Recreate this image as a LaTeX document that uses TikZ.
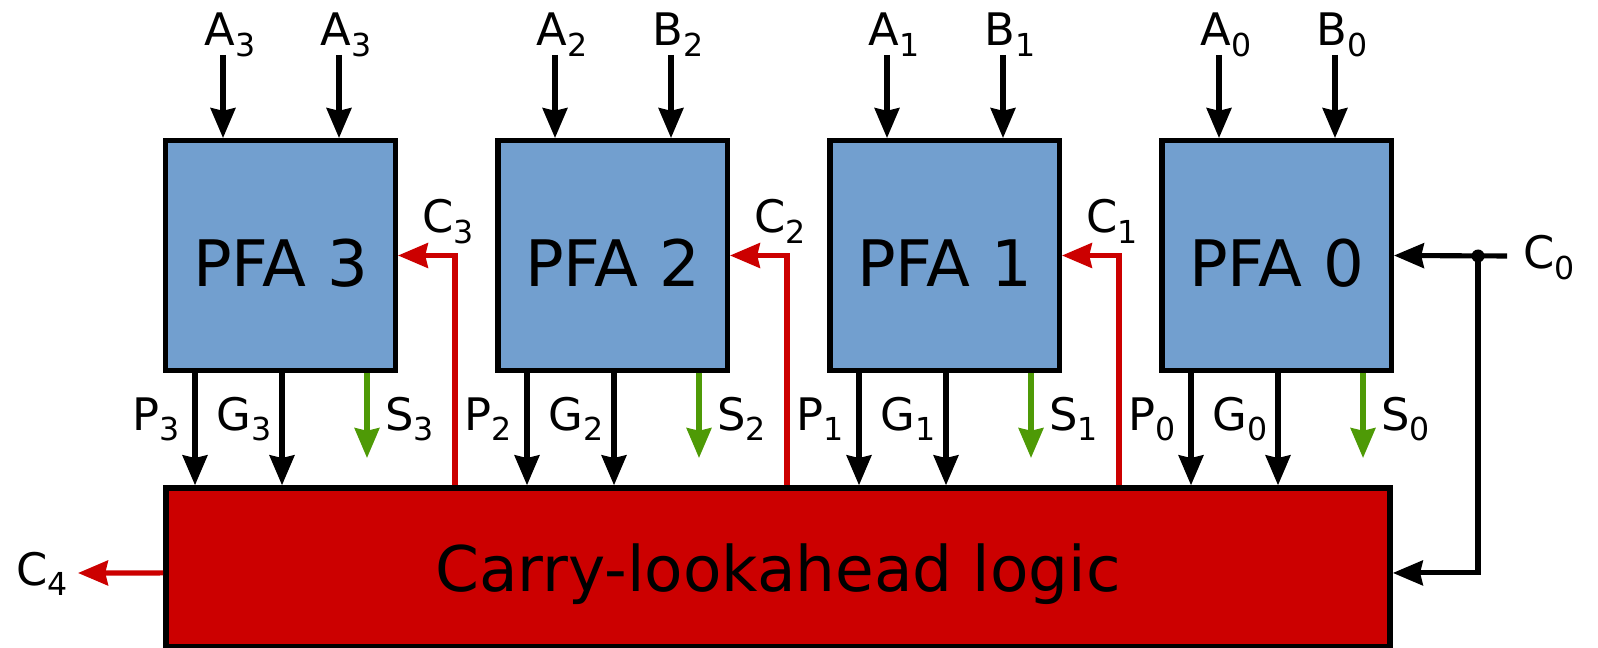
\documentclass[tikz,border=0pt]{standalone}
\usepackage{fontspec}
\setmainfont{DejaVu Sans}
\usepackage{tikz}
\usetikzlibrary{arrows.meta, calc, positioning, shapes}

\definecolor{pfablue}{HTML}{729FCF}
\definecolor{clared}{HTML}{CC0000}
\definecolor{sumgreen}{HTML}{4E9A06}

\newcommand{\sig}[2]{#1\raisebox{-5.7pt}{\fontsize{18}{18}\selectfont #2}}

\tikzset{
	pfa/.style={draw, line width=3.1pt, fill=pfablue, minimum width=4.59cm, minimum height=4.59cm, text height=35.7pt, text depth=0pt, font=\fontsize{36.5}{40}\selectfont},
	clabox/.style={draw, line width=3.1pt, fill=clared, minimum width=24.49cm, minimum height=3.18cm, text depth=0pt, font=\fontsize{35.8}{40}\selectfont},
	wire/.style={line width=2.9pt, -{Stealth[length=17pt, width=14pt, inset=1.5pt]}},
	lbl/.style={font=\fontsize{25.5}{30}\selectfont, inner sep=0pt}
}

\begin{document}
\begin{tikzpicture}[x=0.02cm, y=-0.02cm]
		\useasboundingbox (0,0) rectangle (1598,648);
		\node[clabox] (cla) at (778,567.5) {Carry-lookahead logic};
		\foreach \k/\a/\b in {3/A/A, 2/A/B, 1/A/B, 0/A/B}{
			\pgfmathtruncatemacro\j{3-\k}
			\pgfmathsetmacro\xl{163+332*\j}
			\node[pfa] (pfa\k) at (\xl+117.5,255.5) {PFA \k};
			% operand inputs
			\coordinate (a\k) at (\xl+60,55);
			\coordinate (b\k) at (\xl+176,55);
			\draw[wire] (a\k) -- (a\k |- pfa\k.north);
			\draw[wire] (b\k) -- (b\k |- pfa\k.north);
			\node[lbl, anchor=base] at ($(a\k)+(7,-9)$) {\sig{\a}{\k}};
			\node[lbl, anchor=base] at ($(b\k)+(7,-9)$) {\sig{\b}{\k}};
			% propagate, generate, sum
			\coordinate (p\k) at (\xl+32,430);
			\coordinate (g\k) at (\xl+119,430);
			\coordinate (s\k) at (\xl+204,458);
			\draw[wire] (p\k |- pfa\k.south) -- (p\k |- cla.north);
			\draw[wire] (g\k |- pfa\k.south) -- (g\k |- cla.north);
			\draw[wire, sumgreen] (s\k |- pfa\k.south) -- (s\k);
			\node[lbl, anchor=base east] at ($(p\k)+(-15,0)$) {\sig{P}{\k}};
			\node[lbl, anchor=base east] at ($(g\k)+(-10,0)$) {\sig{G}{\k}};
			\node[lbl, anchor=base west] at ($(s\k)+(18,-28)$) {\sig{S}{\k}};
			% carry back into the block
			\ifnum\k>0
				\coordinate (c\k) at (\xl+292,257);
				\draw[wire, clared] (c\k |- cla.north) |- (pfa\k.east);
				\node[lbl, anchor=base] at ($(c\k)+(-7,-24)$) {\sig{C}{\k}};
			\fi
		}
		% carry in
		\coordinate (c0in) at (1507,256);
		\coordinate (c0tap) at (1478,256);
		\draw[wire] (c0in) -- (pfa0.east);
		\draw[wire] (c0tap) |- ([yshift=-3.1pt]cla.east);
		\fill (c0tap) circle (6.5);
		\node[lbl, anchor=base west] at ($(c0in)+(16,13)$) {\sig{C}{0}};
		% carry out
		\coordinate (c4out) at (78,573);
		\draw[wire, clared] ([yshift=-3.1pt]cla.west) -- (c4out);
		\node[lbl, anchor=base] at ($(c4out)+(-36,12)$) {\sig{C}{4}};
	\end{tikzpicture}
\end{document}
